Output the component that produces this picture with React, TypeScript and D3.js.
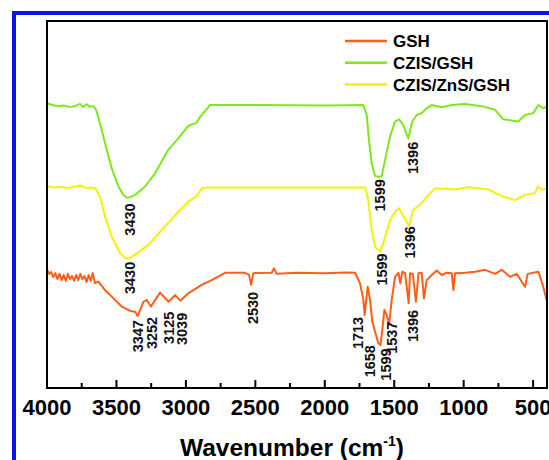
import React from 'react';
import * as d3 from 'd3';

// FTIR spectra, [wavenumber, transmittance (a.u., offset per curve)]
const gshSpectrum: [number, number][] = [
	[4000, 32.3], [3985, 31.1], [3970, 31.6], [3955, 30.2], [3940, 31.3], [3925, 29.7], [3910, 31.1],
	[3895, 29.4], [3880, 30.8], [3865, 29.2], [3850, 31.1], [3835, 29.7], [3820, 30.5], [3805, 29.2],
	[3790, 30.8], [3775, 29.4], [3760, 31.1], [3745, 29.7], [3730, 30.5], [3715, 28.9], [3700, 30.8],
	[3685, 29.2], [3670, 31.3], [3655, 28.6], [3630, 29.0], [3582, 26.7], [3534, 24.9], [3462, 22.2],
	[3402, 21.0], [3366, 20.8], [3347, 19.6], [3306, 23.5], [3282, 24.0], [3252, 22.2], [3186, 26.0],
	[3125, 23.5], [3078, 25.3], [3039, 23.8], [2983, 25.8], [2886, 28.1], [2814, 29.4], [2718, 31.4],
	[2574, 31.4], [2545, 30.8], [2530, 28.1], [2515, 31.3], [2382, 31.4], [2366, 32.6], [2346, 31.1],
	[2200, 31.4], [2000, 31.3], [1850, 31.5], [1782, 31.4], [1746, 28.5], [1722, 24.0], [1713, 19.9],
	[1691, 27.6], [1674, 24.0], [1658, 18.1], [1638, 15.3], [1614, 12.2], [1599, 11.7], [1586, 15.8],
	[1571, 21.3], [1554, 19.9], [1537, 17.2], [1518, 24.0], [1494, 30.3], [1470, 31.4], [1456, 28.5],
	[1442, 31.7], [1422, 31.3], [1396, 23.1], [1386, 31.3], [1366, 31.1], [1344, 23.5], [1325, 31.3],
	[1302, 31.4], [1286, 24.4], [1266, 29.4], [1230, 30.8], [1194, 32.0], [1158, 30.8], [1122, 31.4],
	[1086, 31.3], [1074, 26.7], [1062, 31.3], [990, 31.4], [918, 31.7], [846, 32.2], [774, 31.1],
	[726, 32.2], [666, 30.3], [618, 31.1], [558, 27.6], [539, 31.1], [462, 31.7], [427, 27.6], [403, 24.0],
];

const czisSpectrum: [number, number][] = [
	[4000, 77.6], [3960, 77.1], [3920, 76.8], [3880, 77.0], [3840, 76.6], [3800, 76.8], [3762, 77.4],
	[3740, 76.6], [3714, 77.3], [3690, 76.6], [3670, 76.8], [3654, 76.3], [3642, 75.3], [3606, 70.3],
	[3570, 64.9], [3534, 59.9], [3486, 54.9], [3450, 52.6], [3430, 51.9], [3400, 52.0], [3366, 52.6],
	[3294, 54.9], [3222, 58.5], [3127, 64.9], [3055, 68.0], [2983, 71.4], [2922, 72.3], [2898, 73.9],
	[2826, 77.1], [2500, 77.1], [2000, 77.0], [1722, 77.1], [1698, 74.4], [1682, 67.6], [1662, 61.2],
	[1638, 57.8], [1610, 57.5], [1590, 57.8], [1571, 61.2], [1530, 68.5], [1494, 72.6], [1466, 73.2],
	[1435, 71.7], [1399, 68.0], [1370, 72.6], [1338, 74.4], [1302, 74.9], [1266, 76.2], [1230, 77.1],
	[1158, 76.5], [1086, 77.1], [990, 77.4], [870, 76.8], [774, 75.8], [715, 73.2], [607, 72.6],
	[558, 74.4], [498, 74.9], [462, 77.1], [427, 76.2], [400, 76.7],
];

const czisZnsSpectrum: [number, number][] = [
	[4000, 55.0], [3950, 54.6], [3900, 54.8], [3850, 54.5], [3800, 54.8], [3762, 55.2], [3720, 54.5],
	[3680, 54.6], [3654, 54.5], [3618, 52.1], [3582, 46.7], [3534, 41.2], [3474, 36.7], [3430, 35.3],
	[3400, 35.4], [3354, 36.7], [3270, 39.0], [3174, 43.1], [3078, 47.1], [2983, 50.8], [2922, 52.3],
	[2886, 54.4], [2860, 54.6], [2300, 54.6], [1710, 54.6], [1687, 51.2], [1662, 43.1], [1638, 38.5],
	[1602, 37.1], [1579, 39.4], [1530, 45.8], [1494, 48.0], [1466, 49.0], [1422, 46.2], [1394, 44.1],
	[1363, 48.5], [1314, 49.9], [1266, 52.1], [1206, 54.4], [1062, 54.1], [966, 54.7], [822, 54.1],
	[726, 52.3], [630, 51.2], [558, 52.6], [486, 53.1], [467, 54.9], [427, 54.0], [400, 54.4],
];

const seriesNames = ['GSH', 'CZIS/GSH', 'CZIS/ZnS/GSH'];
const seriesColors = ['#ff5e1a', '#7de81c', '#f5f200'];
const seriesData = [gshSpectrum, czisSpectrum, czisZnsSpectrum];

// peak annotations: [text, wavenumber position, top of label (a.u.)]
const gshPeaks: [string, number, number][] = [
	['3347', 3347, 18.5], ['3252', 3246, 19.4], ['3125', 3122, 20.8], ['3039', 3026, 20.5],
	['2530', 2515, 26.2], ['1713', 1759, 19.4], ['1658', 1674, 11.7], ['1599', 1561, 10.8],
	['1537', 1514, 18.1], ['1396', 1367, 21.3],
];
const czisPeaks: [string, number, number][] = [
	['3430', 3402, 50.3], ['1599', 1602, 56.9], ['1396', 1362, 67.1],
];
const czisZnsPeaks: [string, number, number][] = [
	['3430', 3402, 34.4], ['1599', 1590, 36.7], ['1396', 1386, 44.1],
];
const allPeaks = [...gshPeaks, ...czisPeaks, ...czisZnsPeaks];

const majorTicks = [4000, 3500, 3000, 2500, 2000, 1500, 1000, 500];
const minorTicks = [3750, 3250, 2750, 2250, 1750, 1250, 750];

const W = 549;
const H = 460;
const plot = { left: 47, right: 547, top: 21, bottom: 388 };
const FONT = 'Liberation Sans, Arial, Helvetica, sans-serif';

export default function App() {
	const x = d3.scaleLinear().domain([4000, 400]).range([plot.left, plot.right]);
	const y = d3.scaleLinear().domain([0, 100]).range([plot.bottom, plot.top]);
	const line = d3
		.line<[number, number]>()
		.x(d => x(d[0]))
		.y(d => y(d[1]))
		.curve(d3.curveLinear);

	return (
		<svg
			width={W}
			height={H}
			style={{ position: 'absolute', left: 0, top: 0, background: '#fff' }}
			fontFamily={FONT}
		>
			{/* blue outer box */}
			<rect x={14} y={13} width={W} height={H} fill="none" stroke="#0a14e6" strokeWidth={4} />

			<defs>
				<clipPath id="plotclip">
					<rect x={plot.left} y={plot.top} width={plot.right - plot.left} height={plot.bottom - plot.top} />
				</clipPath>
			</defs>

			<g clipPath="url(#plotclip)">
				{seriesData.map((s, i) => (
					<path
						key={seriesNames[i]}
						d={line(s) || ''}
						fill="none"
						stroke={seriesColors[i]}
						strokeWidth={2}
						strokeLinejoin="round"
					/>
				))}
			</g>

			{/* peak labels */}
			{allPeaks.map((p, i) => (
				<text
					key={i}
					transform={`translate(${x(p[1]) + 5},${y(p[2])}) rotate(-90)`}
					textAnchor="end"
					fontSize={14.5}
					fontWeight="bold"
					fill="#111"
				>
					{p[0]}
				</text>
			))}

			{/* frame */}
			<rect
				x={plot.left}
				y={plot.top}
				width={plot.right - plot.left}
				height={plot.bottom - plot.top}
				fill="none"
				stroke="#000"
				strokeWidth={2}
			/>

			{/* ticks */}
			{majorTicks.map(t => (
				<g key={t}>
					<line x1={x(t)} x2={x(t)} y1={plot.bottom} y2={plot.bottom - 8} stroke="#000" strokeWidth={2} />
					<text x={x(t)} y={415} textAnchor="middle" fontSize={22} fontWeight="bold" fill="#000">
						{t}
					</text>
				</g>
			))}
			{minorTicks.map(t => (
				<line key={t} x1={x(t)} x2={x(t)} y1={plot.bottom} y2={plot.bottom - 5} stroke="#000" strokeWidth={2} />
			))}

			{/* axis title */}
			<text x={292} y={456} textAnchor="middle" fontSize={24.5} fontWeight="bold" fill="#000">
				Wavenumber (cm
				<tspan fontSize={14} dy={-10}>
					-1
				</tspan>
				<tspan dy={10}>)</tspan>
			</text>

			{/* legend */}
			{seriesNames.map((n, i) => (
				<g key={n} transform={`translate(345,${41 + i * 21.8})`}>
					<line x1={0} x2={42} y1={0} y2={0} stroke={seriesColors[i]} strokeWidth={2.5} />
					<text x={48} y={6} fontSize={17} fontWeight="bold" fill="#000">
						{n}
					</text>
				</g>
			))}
		</svg>
	);
}
